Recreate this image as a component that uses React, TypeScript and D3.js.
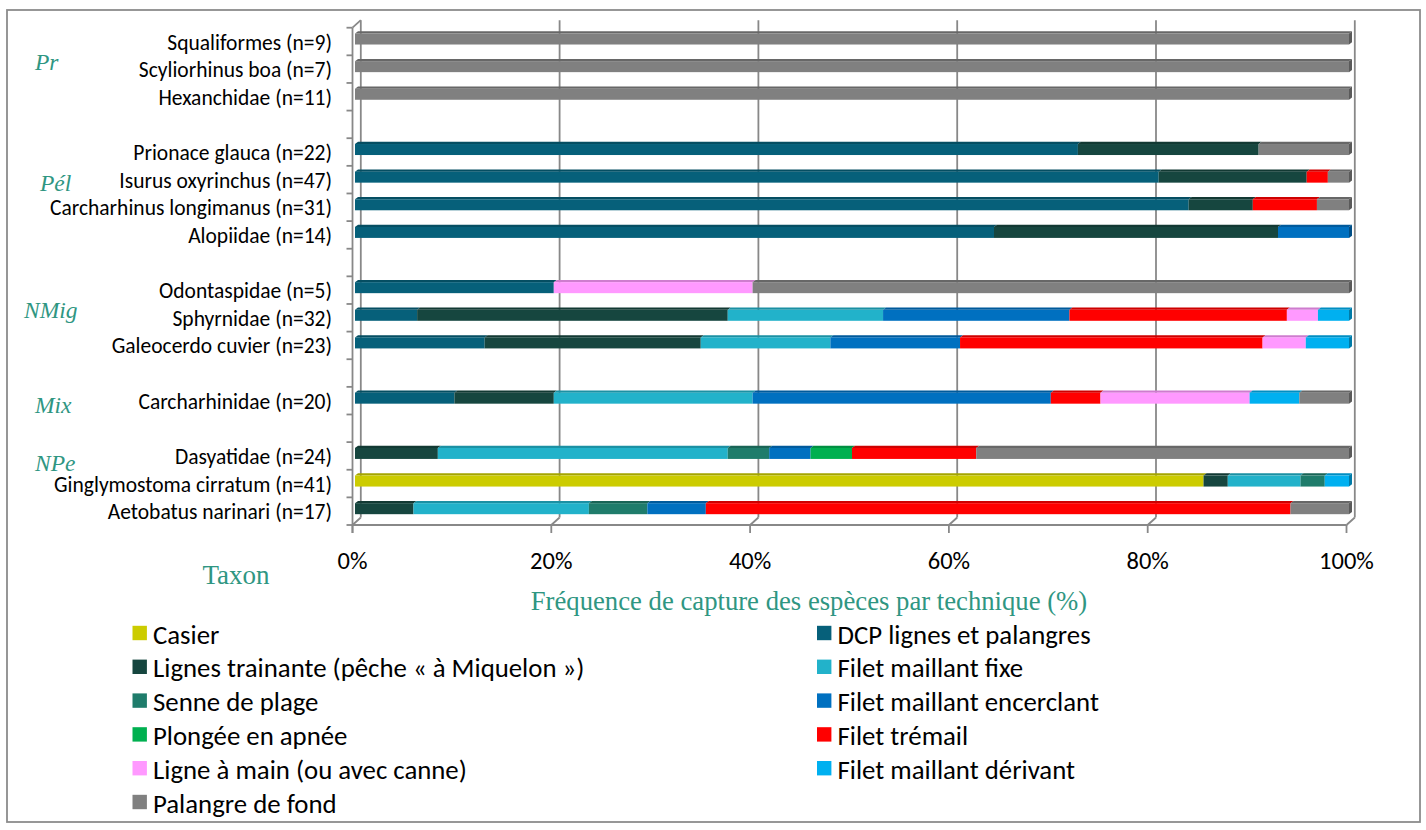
import React from 'react';
import * as d3 from 'd3';

// ---------- DATA ----------
const categories = [
  'Squaliformes (n=9)',
  'Scyliorhinus boa (n=7)',
  'Hexanchidae (n=11)',
  '',
  'Prionace glauca (n=22)',
  'Isurus oxyrinchus (n=47)',
  'Carcharhinus longimanus (n=31)',
  'Alopiidae (n=14)',
  '',
  'Odontaspidae (n=5)',
  'Sphyrnidae (n=32)',
  'Galeocerdo cuvier (n=23)',
  '',
  'Carcharhinidae (n=20)',
  '',
  'Dasyatidae (n=24)',
  'Ginglymostoma cirratum (n=41)',
  'Aetobatus narinari (n=17)',
];

const techniques = [
  'Casier',
  'DCP lignes et palangres',
  'Lignes trainante (pêche « à Miquelon »)',
  'Filet maillant fixe',
  'Senne de plage',
  'Filet maillant encerclant',
  'Plongée en apnée',
  'Filet trémail',
  'Ligne à main (ou avec canne)',
  'Filet maillant dérivant',
  'Palangre de fond',
];

const techniqueColors = [
  '#CCCC00',
  '#06607A',
  '#16463F',
  '#22B2CA',
  '#1F7C6B',
  '#0070C0',
  '#00B050',
  '#FF0000',
  '#FF99FF',
  '#00B0F0',
  '#808080',
];

// capture counts per technique, aligned with categories
const casier =     [0, 0, 0, 0, 0, 0, 0, 0, 0, 0, 0, 0, 0, 0, 0, 0, 35, 0];
const dcp =        [0, 0, 0, 0, 16, 38, 26, 9, 0, 1, 2, 3, 0, 2, 0, 0, 0, 0];
const lignesTr =   [0, 0, 0, 0, 4, 7, 2, 4, 0, 0, 10, 5, 0, 2, 0, 2, 1, 1];
const filetFixe =  [0, 0, 0, 0, 0, 0, 0, 0, 0, 0, 5, 3, 0, 4, 0, 7, 3, 3];
const senne =      [0, 0, 0, 0, 0, 0, 0, 0, 0, 0, 0, 0, 0, 0, 0, 1, 1, 1];
const encerclant = [0, 0, 0, 0, 0, 0, 0, 1, 0, 0, 6, 3, 0, 6, 0, 1, 0, 1];
const plongee =    [0, 0, 0, 0, 0, 0, 0, 0, 0, 0, 0, 0, 0, 0, 0, 1, 0, 0];
const tremail =    [0, 0, 0, 0, 0, 1, 2, 0, 0, 0, 7, 7, 0, 1, 0, 3, 0, 10];
const ligneMain =  [0, 0, 0, 0, 0, 0, 0, 0, 0, 1, 1, 1, 0, 3, 0, 0, 0, 0];
const derivant =   [0, 0, 0, 0, 0, 0, 0, 0, 0, 0, 1, 1, 0, 1, 0, 0, 1, 0];
const palangre =   [9, 7, 11, 0, 2, 1, 1, 0, 0, 3, 0, 0, 0, 1, 0, 9, 0, 1];

const seriesValues = [casier, dcp, lignesTr, filetFixe, senne, encerclant, plongee, tremail, ligneMain, derivant, palangre];

const groupLabels = ['Pr', 'Pél', 'NMig', 'Mix', 'NPe'];
const groupRowPos = [1.23, 5.61, 10.22, 13.65, 15.74];
const groupX = [35, 40, 24, 35, 35];

const xTitle = 'Fréquence de capture des espèces par technique (%)';
const yTitle = 'Taxon';

// ---------- LAYOUT ----------
const W = 1426;
const H = 830;
const FX0 = 352.5;
const FX1 = 1346.5;
const FY0 = 27.7;
const FY1 = 525;
const DX = 8.3; // depth offset of back wall
const DY = -7.5;
const BX = 2.5; // bar front face offset
const BH = 11; // bar height
const BDX = 3; // bar depth
const BDY = -2.2;

const SANS = 'Carlito, Calibri, Lato, sans-serif';
const SERIF = '"Liberation Serif", "Times New Roman", serif';
const TEAL = '#2F9682';
const GRID = '#888888';

export default function App() {
  const x = d3.scaleLinear().domain([0, 1]).range([FX0, FX1]);
  const y = d3.scaleBand<number>().domain(d3.range(categories.length)).range([FY0, FY1]);
  const bw = y.bandwidth();

  const rows = categories.map((_, i) => {
    const o: Record<string, number> = {};
    techniques.forEach((t, k) => (o[t] = seriesValues[k][i]));
    return o;
  });
  const stacked = d3.stack<Record<string, number>>().keys(techniques).offset(d3.stackOffsetExpand)(rows);

  const ticks = x.ticks(5);
  const fmt = d3.format('.0%');

  const boundaries = d3.range(categories.length + 1).map((i) => FY0 + i * bw);

  const darker = (c: string, k = 0.7) => d3.color(c)!.darker(k).formatHex();

  return (
    <svg width={W} height={H} style={{ position: 'absolute', left: 0, top: 0, background: '#fff' }}>
      {/* outer frame */}
      <rect x={7} y={10} width={1413} height={812} fill="#fff" stroke="#8c8c8c" strokeWidth={1.8} />

      {/* back wall gridlines and floor */}
      {ticks.map((t, i) => (
        <g key={'g' + i}>
          <line x1={x(t) + DX} x2={x(t) + DX} y1={FY0 + DY} y2={FY1 + DY} stroke={GRID} strokeWidth={1.8} />
          <line x1={x(t) + DX} x2={x(t)} y1={FY1 + DY} y2={FY1} stroke={GRID} strokeWidth={1.8} />
          <line x1={x(t)} x2={x(t)} y1={FY1} y2={FY1 + 8} stroke={GRID} strokeWidth={1.8} />
        </g>
      ))}
      {/* top-left corner diagonal */}
      <line x1={FX0} y1={FY0} x2={FX0 + DX} y2={FY0 + DY} stroke={GRID} strokeWidth={1.8} />
      {/* front floor edge */}
      <line x1={FX0} x2={FX1} y1={FY1} y2={FY1} stroke={GRID} strokeWidth={1.8} />
      {/* front vertical axis */}
      <line x1={FX0} x2={FX0} y1={FY0} y2={FY1 + 8} stroke={GRID} strokeWidth={1.8} />
      {boundaries.map((b, i) => (
        <line key={'t' + i} x1={FX0 - 6} x2={FX0} y1={b} y2={b} stroke={GRID} strokeWidth={1.8} />
      ))}

      {/* bars */}
      {stacked.map((s, k) => {
        const col = techniqueColors[k];
        return (
          <g key={'s' + k}>
            {s.map((d, j) => {
              if (!(d[1] - d[0] > 0)) return null;
              const x0 = x(d[0]) + BX;
              const x1 = x(d[1]) + BX;
              const yc = (y(j) as number) + bw / 2;
              const yt = yc - 2.5 - BH / 2;
              const isLast = d[1] > 0.9999;
              return (
                <g key={j}>
                  <polygon
                    points={`${x0},${yt} ${x0 + BDX},${yt + BDY} ${x1 + BDX},${yt + BDY} ${x1},${yt}`}
                    fill={darker(col, 0.6)}
                  />
                  <rect x={x0} y={yt} width={x1 - x0} height={BH} fill={col} />
                  {isLast && (
                    <polygon
                      points={`${x1},${yt} ${x1 + BDX},${yt + BDY} ${x1 + BDX},${yt + BDY + BH} ${x1},${yt + BH}`}
                      fill={darker(col, 1)}
                    />
                  )}
                </g>
              );
            })}
          </g>
        );
      })}

      {/* category labels */}
      {categories.map((c, i) =>
        c ? (
          <text
            key={'c' + i}
            x={332}
            y={(y(i) as number) + bw / 2 + 1}
            textAnchor="end"
            dominantBaseline="central"
            fontFamily={SANS}
            fontSize={21.5}
            fill="#000"
          >
            {c}
          </text>
        ) : null
      )}

      {/* group labels */}
      {groupLabels.map((g, i) => (
        <text
          key={'gl' + i}
          x={groupX[i]}
          y={FY0 + groupRowPos[i] * bw}
          dominantBaseline="central"
          fontFamily={SERIF}
          fontStyle="italic"
          fontSize={23.5}
          fill={TEAL}
        >
          {g}
        </text>
      ))}

      {/* x tick labels */}
      {ticks.map((t, i) => (
        <text
          key={'xl' + i}
          x={x(t)}
          y={561}
          textAnchor="middle"
          dominantBaseline="central"
          fontFamily={SANS}
          fontSize={24.5}
          fill="#000"
        >
          {fmt(t)}
        </text>
      ))}

      {/* axis titles */}
      <text x={236} y={575} textAnchor="middle" dominantBaseline="central" fontFamily={SERIF} fontSize={27} fill={TEAL}>
        {yTitle}
      </text>
      <text x={809} y={601} textAnchor="middle" dominantBaseline="central" fontFamily={SERIF} fontSize={26.7} fill={TEAL}>
        {xTitle}
      </text>

      {/* legend */}
      {techniques.map((t, i) => {
        const col = i % 2;
        const row = Math.floor(i / 2);
        const lx = col === 0 ? 132.5 : 817;
        const ly = 633 + row * 33.8;
        return (
          <g key={'lg' + i}>
            <rect x={lx} y={ly - 7.2} width={14.4} height={14.4} fill={techniqueColors[i]} />
            <text x={lx + 20.5} y={ly + 1} dominantBaseline="central" fontFamily={SANS} fontSize={26.8} fill="#000">
              {t}
            </text>
          </g>
        );
      })}
    </svg>
  );
}
